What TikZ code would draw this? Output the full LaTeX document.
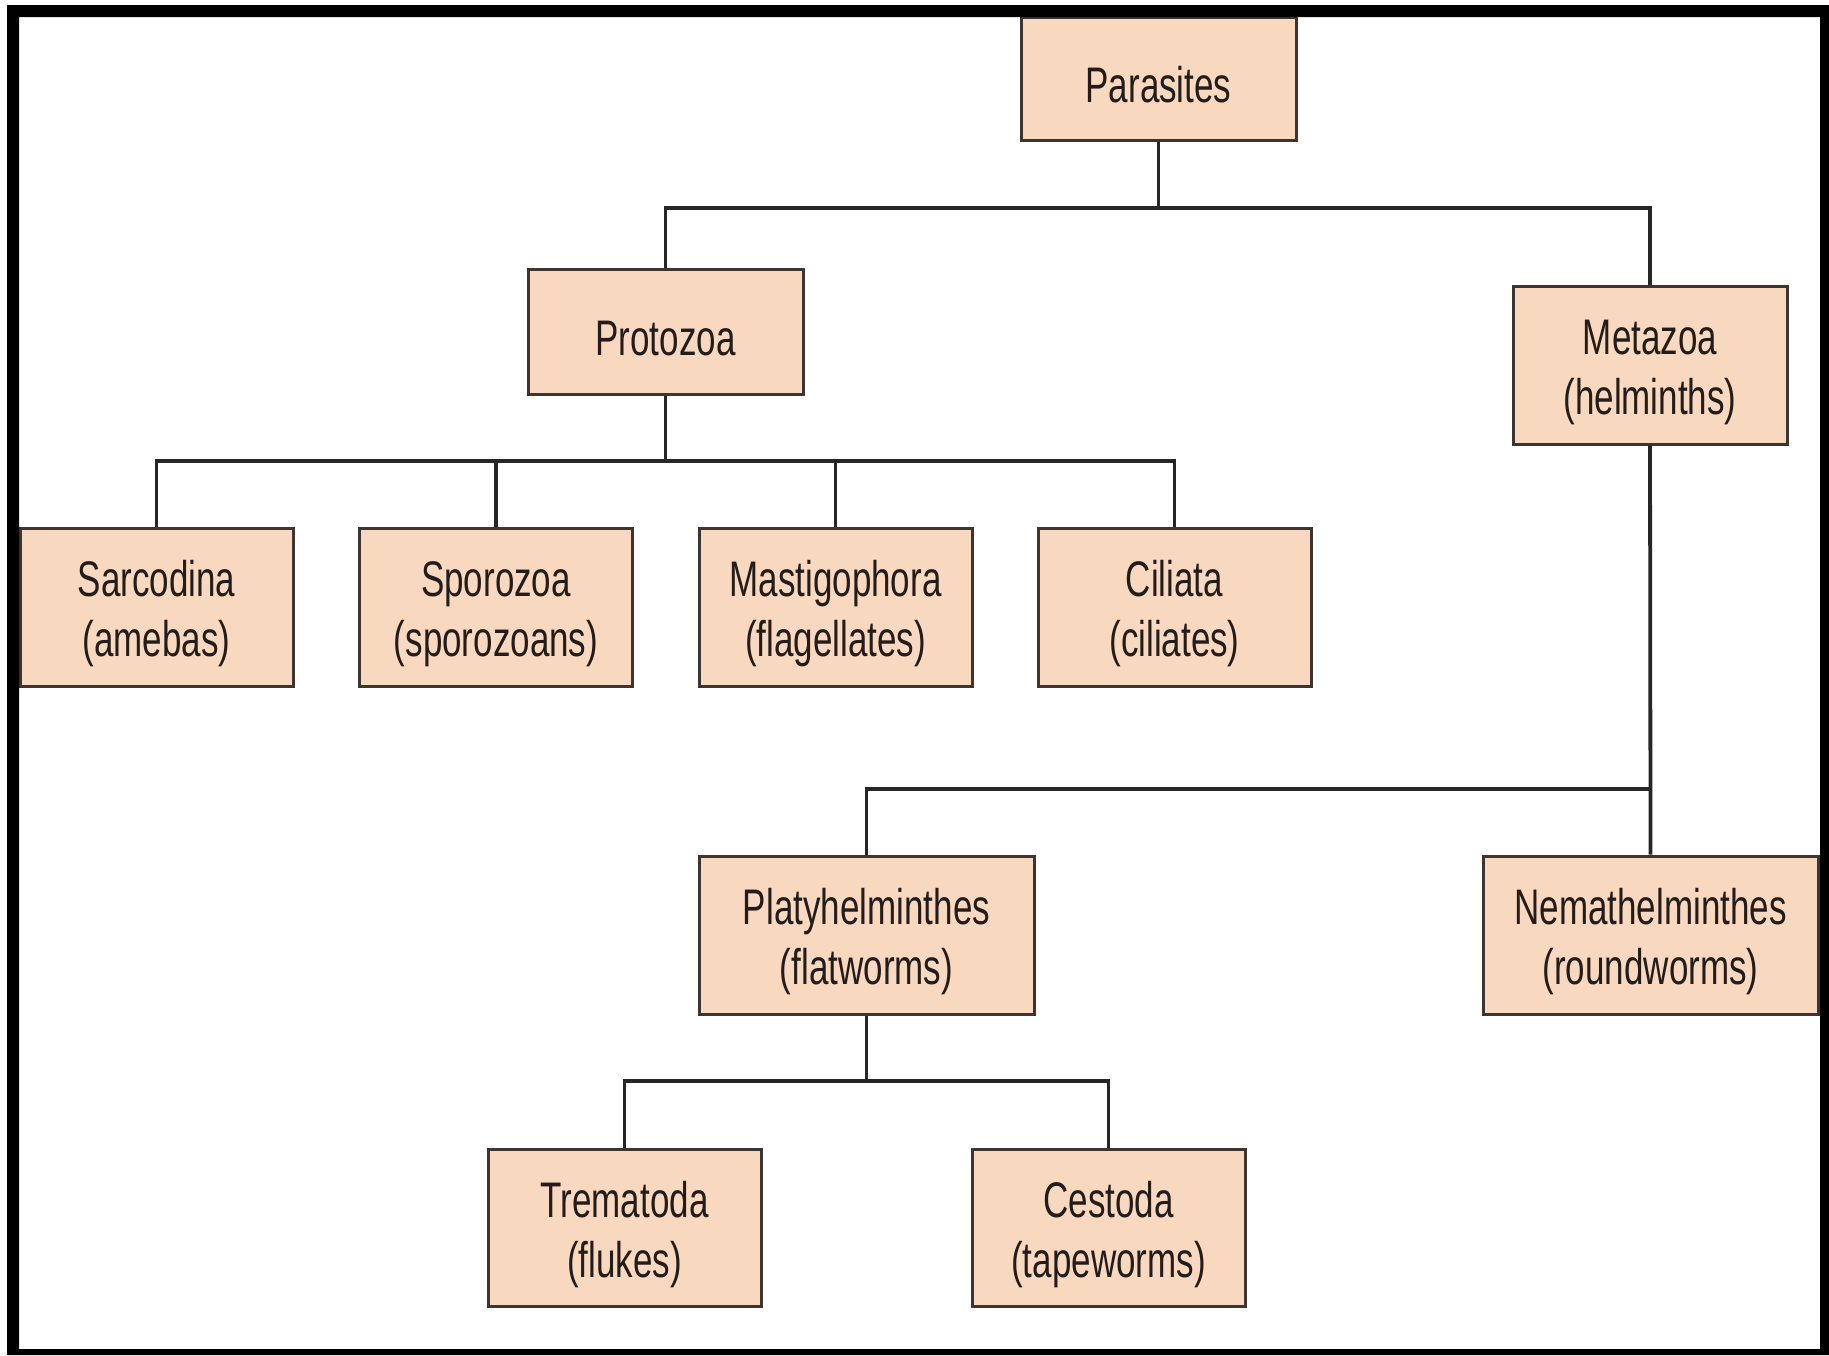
\documentclass[tikz,border=0pt]{standalone}
\usepackage{fontspec}
\setmainfont[FakeStretch=0.7]{Liberation Sans}
\definecolor{boxfill}{HTML}{F9D8C0}
\definecolor{boxline}{HTML}{3D3532}
\definecolor{txt}{HTML}{221D1A}
\begin{document}
\begin{tikzpicture}[x=0.5pt,y=-0.5pt,
  tbox/.style={draw=boxline,line width=1.5pt,fill=boxfill,inner sep=0pt,align=center,
    text=txt,font=\fontsize{25}{30}\selectfont,minimum width=#1},
  tbox/.default=136.5pt,
  oneline/.style={text height=23.5pt,text depth=0pt},
  twoline/.style={text height=55.2pt,text depth=5.3pt},
  link/.style={draw=black!85,line width=1.9pt}]
\useasboundingbox (0,0) rectangle (1829,1355);
\fill[white] (0,0) rectangle (1829,1355);
% nodes
\node[tbox=137.5pt,oneline,minimum height=61.5pt] (par) at (1158.5,78.5) {Parasites};
\node[tbox=137.5pt,oneline,minimum height=62.5pt] (pro) at (665.5,331.5) {Protozoa};
\node[tbox=137pt,twoline,minimum height=79pt] (met) at (1650,365) {Metazoa\\(helminths)};
\node[tbox,twoline,minimum height=79pt] (sar) at (156.5,607) {Sarcodina\\(amebas)};
\node[tbox,twoline,minimum height=79pt] (spo) at (496,607) {Sporozoa\\(sporozoans)};
\node[tbox,twoline,minimum height=79pt] (mas) at (835.5,607) {Mastigophora\\(flagellates)};
\node[tbox,twoline,minimum height=79pt] (cil) at (1174.5,607) {Ciliata\\(ciliates)};
\node[tbox=167.5pt,twoline,minimum height=79pt] (pla) at (866.5,935) {Platyhelminthes\\(flatworms)};
\node[tbox=167.5pt,twoline,minimum height=79pt] (nem) at (1650.5,935) {Nemathelminthes\\(roundworms)};
\node[tbox,twoline,minimum height=78.5pt] (tre) at (624.5,1227.5) {Trematoda\\(flukes)};
\node[tbox,twoline,minimum height=78.5pt] (ces) at (1108.5,1227.5) {Cestoda\\(tapeworms)};
% bus levels
\coordinate (b1) at (0,208);
\coordinate (b2) at (0,461);
\coordinate (b3) at (0,789);
\coordinate (b4) at (0,1081);
% connectors
\draw[link] (par.south) -- (par.south |- b1);
\draw[link] (pro.north) -- (pro.north |- b1) -- (met.north |- b1) -- (met.north);
\draw[link] (pro.south) -- (pro.south |- b2);
\draw[link] (sar.north) -- (sar.north |- b2) -- (cil.north |- b2) -- (cil.north);
\draw[link] (spo.north) -- (spo.north |- b2);
\draw[link] (mas.north) -- (mas.north |- b2);
\draw[link] (met.south) -- (nem.north);
\draw[link] (pla.north) -- (pla.north |- b3) -- (met.south |- b3);
\draw[link] (pla.south) -- (pla.south |- b4);
\draw[link] (tre.north) -- (tre.north |- b4) -- (ces.north |- b4) -- (ces.north);
% frame
\fill[black,even odd rule] (7,5) rectangle (1829,1355) (19,17) rectangle (1820,1349);
\end{tikzpicture}
\end{document}
